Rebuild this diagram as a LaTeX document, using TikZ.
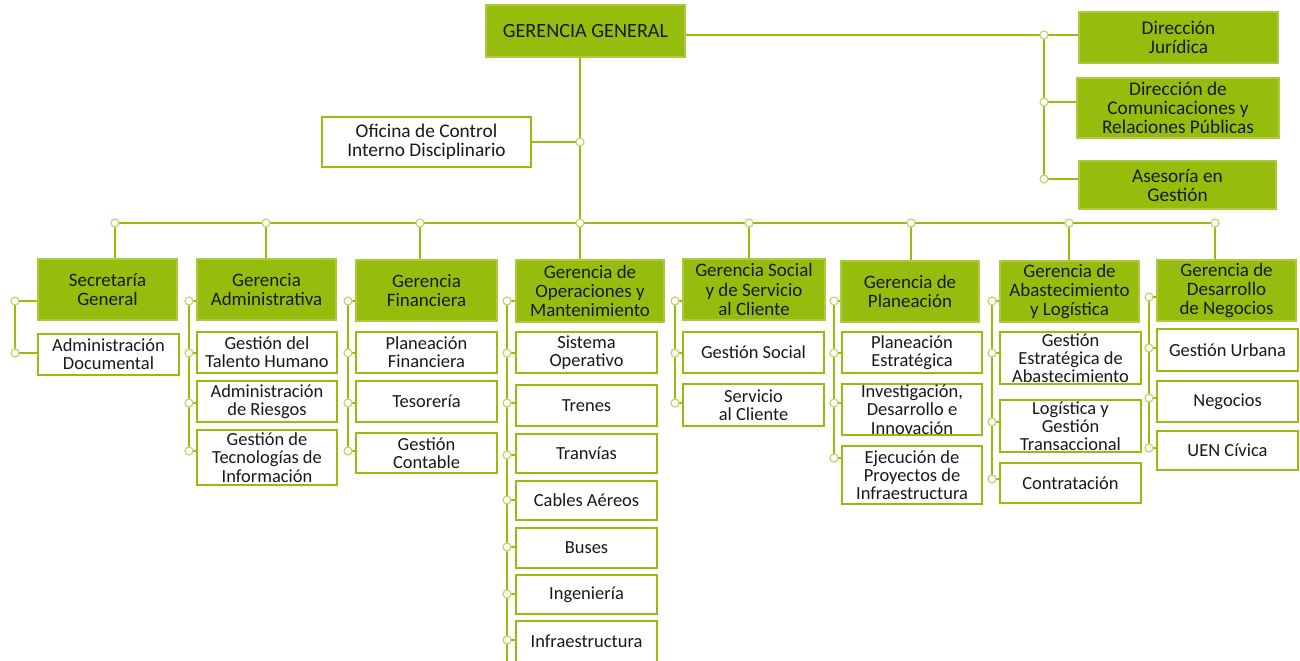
\documentclass[tikz,border=0pt]{standalone}
\usepackage{fontspec}
\setmainfont{Carlito}
\usepackage{tikz}
\usetikzlibrary{positioning}
\definecolor{orggreen}{RGB}{150,189,13}
\definecolor{orgtext}{RGB}{25,25,25}
\tikzset{%
	every org/.style={
		text=orgtext,
		align=center,
		inner sep=0pt
	},
	head box/.style={
		every org,
		fill=orggreen,
		draw=orggreen!80!white,
		line width=0.8pt,
		font=\fontsize{10.8}{10.9}\selectfont
	},
	side box/.style={
		head box,
		font=\fontsize{11}{10.8}\selectfont
	},
	unit box/.style={
		every org,
		fill=white,
		draw=orggreen,
		line width=1.5pt,
		font=\fontsize{10.5}{10.4}\selectfont
	},
	link/.style={draw=orggreen, line width=1.6pt},
	rail/.style={draw=orggreen, line width=1.3pt},
	joint/.style={
		circle,
		fill=white,
		draw=orggreen!60!white,
		line width=0.7pt,
		inner sep=0pt,
		minimum size=0.16cm
	},
}

\begin{document}
\begin{tikzpicture}[x=0.02cm, y=-0.02cm]
	\useasboundingbox (0,0) rectangle (1300,660);

	% top
	\node[head box, minimum width=3.98cm, minimum height=1.04cm, font=\fontsize{11.5}{12}\selectfont] (gg) at (585.5,31) {GERENCIA GENERAL};
	\node[unit box, minimum width=4.18cm, minimum height=1cm, font=\fontsize{11}{11}\selectfont] (ocid) at (426.5,142) {Oficina de Control\\Interno Disciplinario};
	\node[side box, minimum width=3.98cm, minimum height=1.02cm] (djur) at (1178.5,37.5) {Dirección\\Jurídica};
	\node[side box, minimum width=4.04cm, minimum height=1.2cm] (dcom) at (1178,108) {Dirección de\\Comunicaciones y\\Relaciones Públicas};
	\node[side box, minimum width=3.94cm, minimum height=0.96cm] (ases) at (1177.5,185) {Asesoría en\\Gestión};

	% gerencias
	\node[head box, minimum width=2.78cm, minimum height=1.22cm] (sg) at (107.5,289.5) {Secretaría\\General};
	\node[head box, minimum width=2.78cm, minimum height=1.22cm] (gadm) at (266.5,289.5) {Gerencia\\Administrativa};
	\node[head box, minimum width=2.82cm, minimum height=1.22cm] (gfin) at (426.5,290.5) {Gerencia\\Financiera};
	\node[head box, minimum width=2.96cm, minimum height=1.24cm] (gops) at (590,291) {Gerencia de\\Operaciones y\\Mantenimiento};
	\node[head box, minimum width=2.84cm, minimum height=1.22cm] (gsoc) at (754,289.5) {Gerencia Social\\y de Servicio\\al Cliente};
	\node[head box, minimum width=2.76cm, minimum height=1.22cm] (gpla) at (910,291.5) {Gerencia de\\Planeación};
	\node[head box, minimum width=2.78cm, minimum height=1.22cm] (gabs) at (1069.5,291.5) {Gerencia de\\Abastecimiento\\y Logística};
	\node[head box, minimum width=2.78cm, minimum height=1.22cm] (gdes) at (1226.5,290.5) {Gerencia de\\Desarrollo\\de Negocios};

	% dependencias
	\node[unit box, minimum width=2.82cm, minimum height=0.82cm] (sg1) at (108.5,354.5) {Administración\\Documental};

	\node[unit box, minimum width=2.8cm, minimum height=0.82cm] (ga1) at (267,352.5) {Gestión del\\Talento Humano};
	\node[unit box, minimum width=2.8cm, minimum height=0.82cm] (ga2) at (267,401.5) {Administración\\de Riesgos};
	\node[unit box, minimum width=2.8cm, minimum height=1.1cm] (ga3) at (267,457.5) {Gestión de\\Tecnologías de\\Información};

	\node[unit box, minimum width=2.82cm, minimum height=0.82cm] (gf1) at (426.5,352.5) {Planeación\\Financiera};
	\node[unit box, minimum width=2.82cm, minimum height=0.82cm] (gf2) at (426.5,401.5) {Tesorería};
	\node[unit box, minimum width=2.82cm, minimum height=0.8cm] (gf3) at (426.5,453) {Gestión\\Contable};

	\node[unit box, minimum width=2.82cm, minimum height=0.82cm] (go1) at (586.5,352.5) {Sistema\\Operativo};
	\node[unit box, minimum width=2.82cm, minimum height=0.82cm] (go2) at (586.5,405.5) {Trenes};
	\node[unit box, minimum width=2.82cm, minimum height=0.78cm] (go3) at (586.5,453.5) {Tranvías};
	\node[unit box, minimum width=2.82cm, minimum height=0.78cm] (go4) at (586.5,500.5) {Cables Aéreos};
	\node[unit box, minimum width=2.82cm, minimum height=0.8cm] (go5) at (586.5,548) {Buses};
	\node[unit box, minimum width=2.82cm, minimum height=0.78cm] (go6) at (586.5,594.5) {Ingeniería};
	\node[unit box, minimum width=2.82cm, minimum height=0.82cm] (go7) at (586.5,641.5) {Infraestructura};

	\node[unit box, minimum width=2.82cm, minimum height=0.82cm] (gs1) at (753.5,352.5) {Gestión Social};
	\node[unit box, minimum width=2.82cm, minimum height=0.84cm] (gs2) at (753.5,405) {Servicio\\al Cliente};

	\node[unit box, minimum width=2.8cm, minimum height=0.82cm] (gp1) at (912,352.5) {Planeación\\Estratégica};
	\node[unit box, minimum width=2.8cm, minimum height=1.02cm] (gp2) at (912,409.5) {Investigación,\\Desarrollo e\\Innovación};
	\node[unit box, minimum width=2.8cm, minimum height=1.16cm] (gp3) at (912,475) {Ejecución de\\Proyectos de\\Infraestructura};

	\node[unit box, minimum width=2.82cm, minimum height=1.04cm] (gb1) at (1070.5,358) {Gestión\\Estratégica de\\Abastecimiento};
	\node[unit box, minimum width=2.82cm, minimum height=1.04cm] (gb2) at (1070.5,426) {Logística y\\Gestión\\Transaccional};
	\node[unit box, minimum width=2.82cm, minimum height=0.8cm] (gb3) at (1070.5,483) {Contratación};

	\node[unit box, minimum width=2.82cm, minimum height=0.84cm] (gd1) at (1227.5,350) {Gestión Urbana};
	\node[unit box, minimum width=2.82cm, minimum height=0.82cm] (gd2) at (1227.5,401.5) {Negocios};
	\node[unit box, minimum width=2.82cm, minimum height=0.78cm] (gd3) at (1227.5,450.5) {UEN Cívica};

	% tronco y barra
	\coordinate (jo) at (580,142);
	\coordinate (jr1) at (1044,35);
	\coordinate (jr2) at (1044,102);
	\coordinate (jr3) at (1044,179);
	\foreach \i/\x in {1/115,2/266,3/420,4/580,5/749,6/911,7/1069,8/1215}
		\coordinate (bus\i) at (\x,223);

	\draw[link] (gg.south -| bus4) -- (bus4);
	\draw[link] (ocid.east) -- (jo);
	\draw[rail] (gg.east |- jr1) -- (jr1) -- (jr3);
	\draw[link] (jr1) -- (jr1 -| djur.west);
	\draw[link] (jr2) -- (jr2 -| dcom.west);
	\draw[link] (jr3) -- (jr3 -| ases.west);
	\draw[link] (bus1) -- (bus8);
	\foreach \i/\n in {1/sg,2/gadm,3/gfin,4/gops,5/gsoc,6/gpla,7/gabs,8/gdes}
		\draw[link] (bus\i) -- (bus\i |- \n.north);

	% rieles
	\foreach \y/\n in {301/sg,353/sg1}{
		\coordinate (j-\n) at (15,\y);
		\draw[link] (j-\n) -- (j-\n -| \n.west);
	}
	\draw[rail] (j-sg) -- (j-sg1);

	\foreach \y/\n in {301/gadm,353/ga1,403/ga2,451/ga3}{
		\coordinate (j-\n) at (189,\y);
		\draw[link] (j-\n) -- (j-\n -| \n.west);
	}
	\draw[rail] (j-gadm) -- (j-ga3);

	\foreach \y/\n in {301/gfin,353/gf1,403/gf2,451/gf3}{
		\coordinate (j-\n) at (348,\y);
		\draw[link] (j-\n) -- (j-\n -| \n.west);
	}
	\draw[rail] (j-gfin) -- (j-gf3);

	\foreach \y/\n in {301/gops,353/go1,403/go2,455/go3,500/go4,547/go5,594/go6,640/go7}{
		\coordinate (j-\n) at (507,\y);
		\draw[link] (j-\n) -- (j-\n -| \n.west);
	}
	\coordinate (opsend) at (507,672);
	\draw[rail] (j-gops) -- (opsend);

	\foreach \y/\n in {301/gsoc,353/gs1,403/gs2}{
		\coordinate (j-\n) at (675,\y);
		\draw[link] (j-\n) -- (j-\n -| \n.west);
	}
	\draw[rail] (j-gsoc) -- (j-gs2);

	\foreach \y/\n in {301/gpla,353/gp1,403/gp2,458/gp3}{
		\coordinate (j-\n) at (834,\y);
		\draw[link] (j-\n) -- (j-\n -| \n.west);
	}
	\draw[rail] (j-gpla) -- (j-gp3);

	\foreach \y/\n in {301/gabs,353/gb1,422/gb2,479/gb3}{
		\coordinate (j-\n) at (992,\y);
		\draw[link] (j-\n) -- (j-\n -| \n.west);
	}
	\draw[rail] (j-gabs) -- (j-gb3);

	\foreach \y/\n in {297/gdes,348/gd1,398/gd2,448/gd3}{
		\coordinate (j-\n) at (1149,\y);
		\draw[link] (j-\n) -- (j-\n -| \n.west);
	}
	\draw[rail] (j-gdes) -- (j-gd3);

	% puntos
	\foreach \c in {jo,jr1,jr2,jr3,bus1,bus2,bus3,bus4,bus5,bus6,bus7,bus8}
		\node[joint] at (\c) {};
	\foreach \n in {sg,sg1,gadm,ga1,ga2,ga3,gfin,gf1,gf2,gf3,gops,go1,go2,go3,go4,go5,go6,go7,gsoc,gs1,gs2,gpla,gp1,gp2,gp3,gabs,gb1,gb2,gb3,gdes,gd1,gd2,gd3}
		\node[joint] at (j-\n) {};

\end{tikzpicture}
\end{document}
